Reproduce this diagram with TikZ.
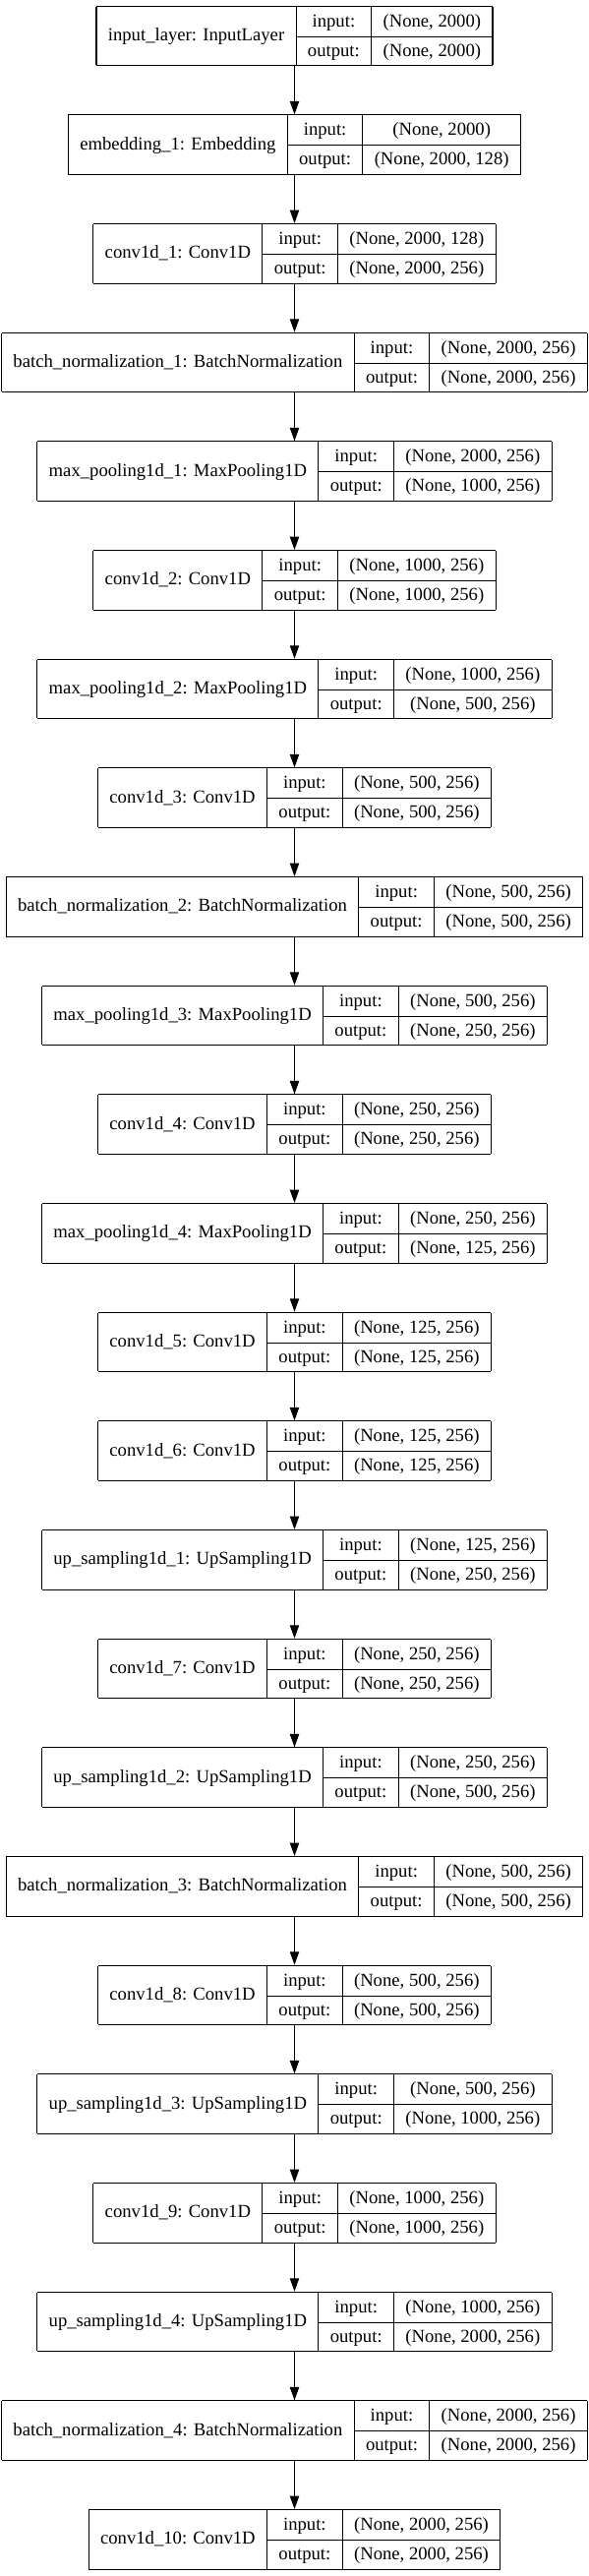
\documentclass[tikz,border=0pt]{standalone}
\usepackage{fontspec}
\setmainfont{Liberation Serif}
\usepackage{tikz}
\usetikzlibrary{arrows.meta}
\setlength{\tabcolsep}{8.9pt}
\setlength{\arrayrulewidth}{0.8pt}
\newcommand{\rowstrut}{\rule[-7pt]{0pt}{22.4pt}}
\newcommand{\layerrec}[3]{%
  \begin{tabular}{|c|c|c|}\hline
    & input:\rowstrut & #2 \\ \cline{2-3}
    \raisebox{11.6pt}[0pt][0pt]{#1} & output:\rowstrut & #3 \\ \hline
  \end{tabular}}
\tikzset{
  layer/.style = {shape=rectangle, anchor=center, inner sep=0pt, outer sep=0pt,
                  font=\fontsize{14pt}{16.8pt}\selectfont},
  arrow/.style = {line width=0.8pt, -{Triangle[length=10pt, width=7pt]}}
}
\begin{document}
\begin{tikzpicture}[node distance=83pt]
  \useasboundingbox (-224.625pt,27.4pt) rectangle (224.625pt,-1936.85pt);
  \node (inp) [layer] {\layerrec{input\_layer: InputLayer}{(None, 2000)}{(None, 2000)}};
  \node (emb) [layer, below of=inp] {\layerrec{embedding\_1: Embedding}{(None, 2000)}{(None, 2000, 128)}};
  \node (c1) [layer, below of=emb] {\layerrec{conv1d\_1: Conv1D}{(None, 2000, 128)}{(None, 2000, 256)}};
  \node (bn1) [layer, below of=c1] {\layerrec{batch\_normalization\_1: BatchNormalization}{(None, 2000, 256)}{(None, 2000, 256)}};
  \node (mp1) [layer, below of=bn1] {\layerrec{max\_pooling1d\_1: MaxPooling1D}{(None, 2000, 256)}{(None, 1000, 256)}};
  \node (c2) [layer, below of=mp1] {\layerrec{conv1d\_2: Conv1D}{(None, 1000, 256)}{(None, 1000, 256)}};
  \node (mp2) [layer, below of=c2] {\layerrec{max\_pooling1d\_2: MaxPooling1D}{(None, 1000, 256)}{(None, 500, 256)}};
  \node (c3) [layer, below of=mp2] {\layerrec{conv1d\_3: Conv1D}{(None, 500, 256)}{(None, 500, 256)}};
  \node (bn2) [layer, below of=c3] {\layerrec{batch\_normalization\_2: BatchNormalization}{(None, 500, 256)}{(None, 500, 256)}};
  \node (mp3) [layer, below of=bn2] {\layerrec{max\_pooling1d\_3: MaxPooling1D}{(None, 500, 256)}{(None, 250, 256)}};
  \node (c4) [layer, below of=mp3] {\layerrec{conv1d\_4: Conv1D}{(None, 250, 256)}{(None, 250, 256)}};
  \node (mp4) [layer, below of=c4] {\layerrec{max\_pooling1d\_4: MaxPooling1D}{(None, 250, 256)}{(None, 125, 256)}};
  \node (c5) [layer, below of=mp4] {\layerrec{conv1d\_5: Conv1D}{(None, 125, 256)}{(None, 125, 256)}};
  \node (c6) [layer, below of=c5] {\layerrec{conv1d\_6: Conv1D}{(None, 125, 256)}{(None, 125, 256)}};
  \node (up1) [layer, below of=c6] {\layerrec{up\_sampling1d\_1: UpSampling1D}{(None, 125, 256)}{(None, 250, 256)}};
  \node (c7) [layer, below of=up1] {\layerrec{conv1d\_7: Conv1D}{(None, 250, 256)}{(None, 250, 256)}};
  \node (up2) [layer, below of=c7] {\layerrec{up\_sampling1d\_2: UpSampling1D}{(None, 250, 256)}{(None, 500, 256)}};
  \node (bn3) [layer, below of=up2] {\layerrec{batch\_normalization\_3: BatchNormalization}{(None, 500, 256)}{(None, 500, 256)}};
  \node (c8) [layer, below of=bn3] {\layerrec{conv1d\_8: Conv1D}{(None, 500, 256)}{(None, 500, 256)}};
  \node (up3) [layer, below of=c8] {\layerrec{up\_sampling1d\_3: UpSampling1D}{(None, 500, 256)}{(None, 1000, 256)}};
  \node (c9) [layer, below of=up3] {\layerrec{conv1d\_9: Conv1D}{(None, 1000, 256)}{(None, 1000, 256)}};
  \node (up4) [layer, below of=c9] {\layerrec{up\_sampling1d\_4: UpSampling1D}{(None, 1000, 256)}{(None, 2000, 256)}};
  \node (bn4) [layer, below of=up4] {\layerrec{batch\_normalization\_4: BatchNormalization}{(None, 2000, 256)}{(None, 2000, 256)}};
  \node (c10) [layer, below of=bn4] {\layerrec{conv1d\_10: Conv1D}{(None, 2000, 256)}{(None, 2000, 256)}};

  \draw [arrow] (inp) -- (emb);
  \draw [arrow] (emb) -- (c1);
  \draw [arrow] (c1) -- (bn1);
  \draw [arrow] (bn1) -- (mp1);
  \draw [arrow] (mp1) -- (c2);
  \draw [arrow] (c2) -- (mp2);
  \draw [arrow] (mp2) -- (c3);
  \draw [arrow] (c3) -- (bn2);
  \draw [arrow] (bn2) -- (mp3);
  \draw [arrow] (mp3) -- (c4);
  \draw [arrow] (c4) -- (mp4);
  \draw [arrow] (mp4) -- (c5);
  \draw [arrow] (c5) -- (c6);
  \draw [arrow] (c6) -- (up1);
  \draw [arrow] (up1) -- (c7);
  \draw [arrow] (c7) -- (up2);
  \draw [arrow] (up2) -- (bn3);
  \draw [arrow] (bn3) -- (c8);
  \draw [arrow] (c8) -- (up3);
  \draw [arrow] (up3) -- (c9);
  \draw [arrow] (c9) -- (up4);
  \draw [arrow] (up4) -- (bn4);
  \draw [arrow] (bn4) -- (c10);
\end{tikzpicture}
\end{document}
